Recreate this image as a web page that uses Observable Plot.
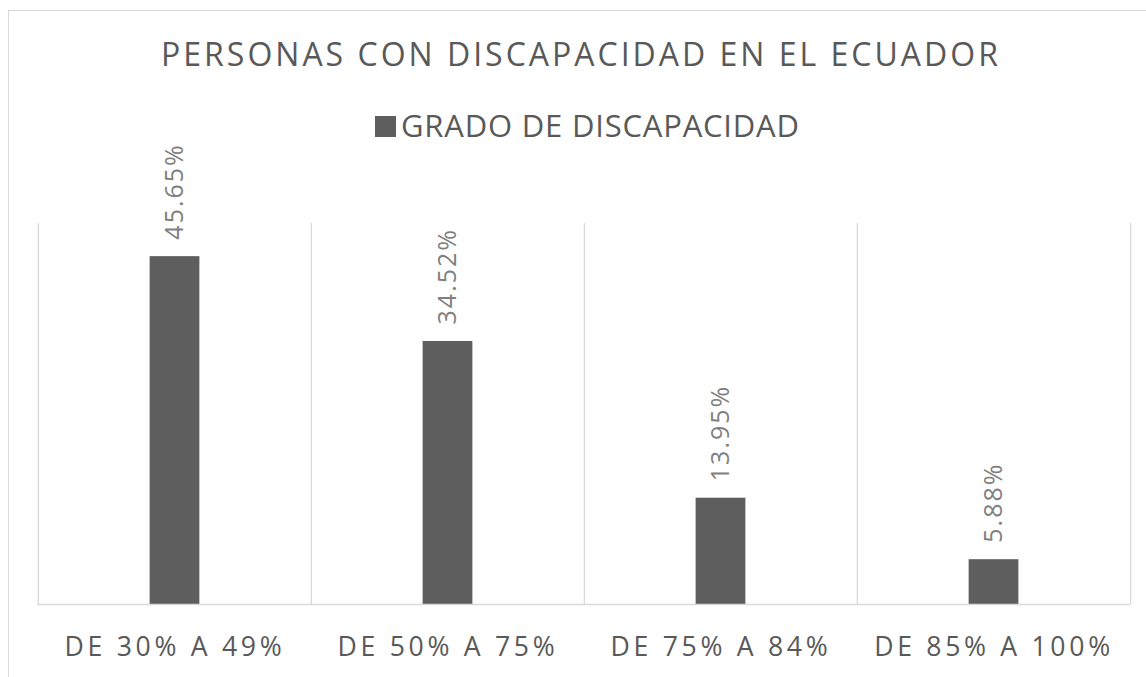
<!DOCTYPE html>
<html>
<head>
<meta charset="utf-8">
<script src="https://cdn.jsdelivr.net/npm/d3@7"></script>
<script src="https://cdn.jsdelivr.net/npm/@observablehq/plot@0.6"></script>
<style>
  html, body { margin: 0; padding: 0; background: #fff; overflow: hidden; }
  #wrap { position: relative; width: 1146px; height: 677px; font-family: "Open Sans", sans-serif; }
  #border { position: absolute; left: 8px; top: 10px; width: 1160px; height: 720px; border-left: 1.5px solid #d9d9d9; border-top: 1.5px solid #d9d9d9; box-sizing: border-box; }
  #header { position: relative; height: 130px; }
  #title { position: absolute; left: 16px; width: 1130px; top: 38px; text-align: center; font-size: 32px; line-height: 32px; letter-spacing: 3px; color: #595959; white-space: nowrap; }
  #legsq { position: absolute; left: 375px; top: 116px; width: 21px; height: 21px; background: #5e5e5e; }
  #legtx { position: absolute; left: 401px; top: 110px; font-size: 31px; line-height: 31px; letter-spacing: 0.8px; color: #595959; white-space: nowrap; }
  #chart { position: relative; }
  #chart svg g[aria-label="x-axis tick label"] text { letter-spacing: 3.7px; }
  #chart svg g[aria-label="text"] text { letter-spacing: 2px; }
</style>
</head>
<body>
<div id="wrap">
  <div id="border"></div>
  <div id="header">
    <div id="title"></div>
    <div id="legsq"></div>
    <div id="legtx"></div>
  </div>
  <div id="chart"></div>
</div>
<script>
const titleText = "PERSONAS CON DISCAPACIDAD EN EL ECUADOR";
const legendLabel = "GRADO DE DISCAPACIDAD";
const categories = ["DE 30% A 49%", "DE 50% A 75%", "DE 75% A 84%", "DE 85% A 100%"];
const values = [45.65, 34.52, 13.95, 5.88];
const yDomain = [0, 50];

document.getElementById("title").textContent = titleText;
document.getElementById("legtx").textContent = legendLabel;

const data = categories.map((c, i) => ({cat: c, value: values[i]}));

const W = 1146, mL = 37, mR = 16;
const bw = (W - mL - mR) / categories.length;
const barW = 50;
const inset = (bw - barW) / 2;
const grid = "#d9d9d9";

const chart = Plot.plot({
  width: W,
  height: 547,
  marginLeft: mL,
  marginRight: mR,
  marginTop: 93,
  marginBottom: 73,
  x: {domain: categories, padding: 0, label: null},
  y: {domain: yDomain, axis: null},
  style: {fontFamily: "Open Sans", background: "transparent", overflow: "visible"},
  marks: [
    Plot.ruleX(categories, {x: d => d, dx: -bw / 2, stroke: grid, strokeWidth: 1.3}),
    Plot.ruleX(categories.slice(-1), {x: d => d, dx: bw / 2, stroke: grid, strokeWidth: 1.3}),
    Plot.barY(data, {x: "cat", y: "value", fill: "#5e5e5e", insetLeft: inset, insetRight: inset}),
    Plot.ruleY([0], {stroke: grid, strokeWidth: 1.5}),
    Plot.text(data, {x: "cat", y: "value", text: d => d.value.toFixed(2) + "%", rotate: -90, textAnchor: "start", dy: -17, fill: "#808080", fontSize: 25}),
    Plot.axisX({tickSize: 0, tickPadding: 33, fontSize: 26.6, fill: "#595959", label: null})
  ]
});
document.getElementById("chart").appendChild(chart);
</script>
</body>
</html>
